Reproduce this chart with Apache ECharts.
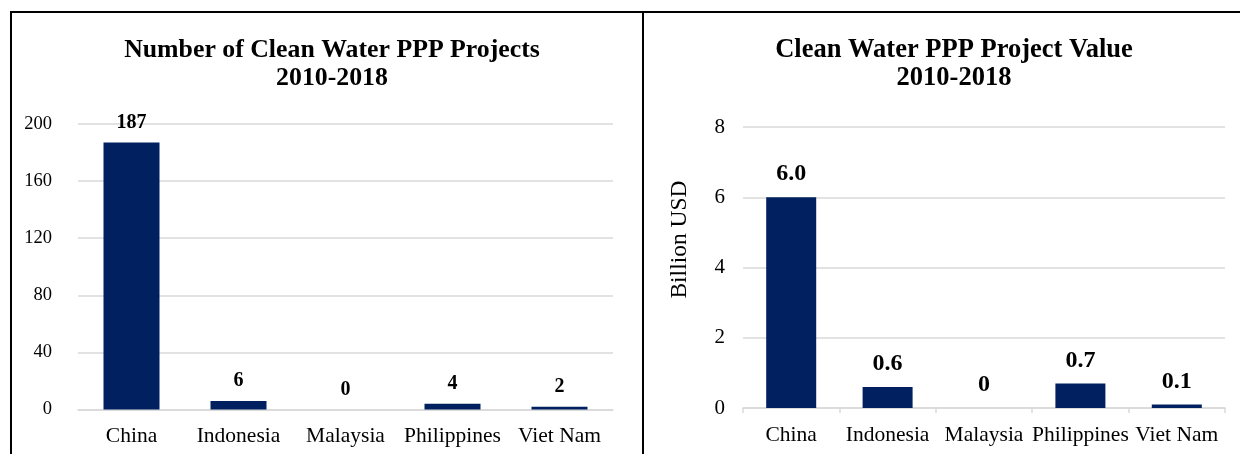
<!DOCTYPE html>
<html>
<head>
<meta charset="utf-8">
<script src="https://cdn.jsdelivr.net/npm/echarts@6/dist/echarts.min.js"></script>
<style>
  html, body { margin: 0; padding: 0; background: #fff; }
  #chart { width: 1240px; height: 454px; }
</style>
</head>
<body>
<div id="chart"></div>
<script>
// Clean water PPP projects by country, 2010-2018
const countries = ['China', 'Indonesia', 'Malaysia', 'Philippines', 'Viet Nam'];
const projectCounts = [187, 6, 0, 4, 2];
const projectValues = [6.0, 0.6, 0, 0.7, 0.1]; // billion USD
const countTicks = { min: 0, max: 200, interval: 40 };
const valueTicks = { min: 0, max: 8, interval: 2 };

const FONT = "'Times New Roman', 'Liberation Serif', serif";
const NAVY = '#002060';
const GRID_GRAY = '#d9d9d9';

const chart = echarts.init(document.getElementById('chart'), null, { renderer: 'canvas' });

const titleStyle = size => ({ fontFamily: FONT, fontWeight: 'bold', fontSize: size, lineHeight: 28, color: '#000' });
const categoryLabel = { interval: 0, fontFamily: FONT, fontSize: 21.5, color: '#000', margin: 16 };

chart.setOption({
  backgroundColor: '#fff',
  animation: false,
  title: [
    { text: 'Number of Clean Water PPP Projects\n2010-2018', left: 327, top: 31, textAlign: 'center', textStyle: titleStyle(25.8) },
    { text: 'Clean Water PPP Project Value\n2010-2018', left: 949, top: 31, textAlign: 'center', textStyle: titleStyle(26.5) }
  ],
  grid: [
    { left: 78, right: 627, top: 124, bottom: 44.5 },
    { left: 743, right: 15, top: 127, bottom: 46 }
  ],
  xAxis: [
    {
      gridIndex: 0, type: 'category', data: countries,
      axisLine: { lineStyle: { color: GRID_GRAY, width: 1.5 } },
      axisTick: { show: false },
      axisLabel: categoryLabel
    },
    {
      gridIndex: 1, type: 'category', data: countries,
      axisLine: { lineStyle: { color: GRID_GRAY, width: 1.5 } },
      axisTick: { show: true, length: 5, lineStyle: { color: GRID_GRAY, width: 1.5 } },
      axisLabel: categoryLabel
    }
  ],
  yAxis: [
    {
      gridIndex: 0, type: 'value', ...countTicks,
      axisLine: { show: false }, axisTick: { show: false },
      splitLine: { lineStyle: { color: GRID_GRAY, width: 1.5 } },
      axisLabel: { fontFamily: FONT, fontSize: 18.5, color: '#000', margin: 26 }
    },
    {
      gridIndex: 1, type: 'value', ...valueTicks,
      name: 'Billion USD', nameLocation: 'middle', nameGap: 51, nameRotate: 90,
      nameTextStyle: { fontFamily: FONT, fontSize: 23.5, color: '#000', padding: [0, 0, 0, 56] },
      axisLine: { show: false }, axisTick: { show: false },
      splitLine: { lineStyle: { color: GRID_GRAY, width: 1.5 } },
      axisLabel: { fontFamily: FONT, fontSize: 21, color: '#000', margin: 18 }
    }
  ],
  series: [
    {
      type: 'bar', xAxisIndex: 0, yAxisIndex: 0, data: projectCounts,
      barWidth: 56, itemStyle: { color: NAVY },
      label: {
        show: true, position: 'top', distance: 10,
        fontFamily: FONT, fontWeight: 'bold', fontSize: 20, color: '#000'
      }
    },
    {
      type: 'bar', xAxisIndex: 1, yAxisIndex: 1, data: projectValues,
      barWidth: 50, itemStyle: { color: NAVY },
      label: {
        show: true, position: 'top', distance: 11,
        fontFamily: FONT, fontWeight: 'bold', fontSize: 24, color: '#000',
        formatter: p => (p.value === 0 ? '0' : p.value.toFixed(1))
      }
    }
  ],
  graphic: [
    // panel frames
    { type: 'line', shape: { x1: 11, y1: 12, x2: 1240, y2: 12 }, style: { stroke: '#000', lineWidth: 2 } },
    { type: 'line', shape: { x1: 11, y1: 11, x2: 11, y2: 454 }, style: { stroke: '#000', lineWidth: 2 } },
    { type: 'line', shape: { x1: 643, y1: 11, x2: 643, y2: 454 }, style: { stroke: '#000', lineWidth: 2 } }
  ]
});
</script>
</body>
</html>
